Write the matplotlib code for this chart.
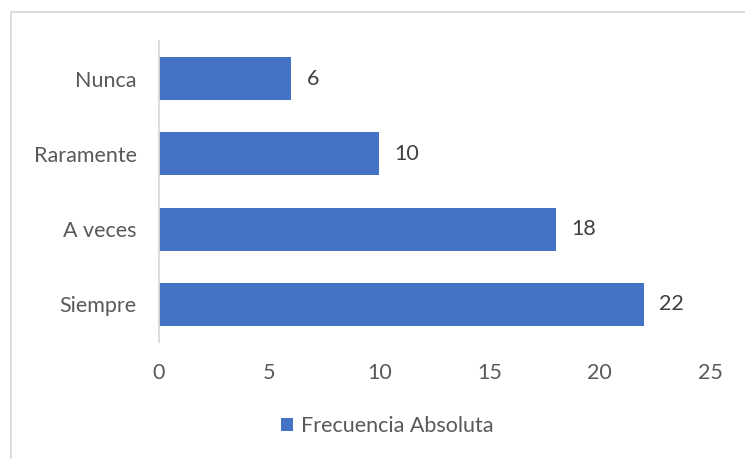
import matplotlib.pyplot as plt
from matplotlib.patches import Rectangle

# Datos
categorias = ["Siempre", "A veces", "Raramente", "Nunca"]
frecuencia = [22, 18, 10, 6]
ticks_x = [0, 5, 10, 15, 20, 25]

azul = "#4472C4"
gris_texto = "#595959"

plt.rcParams['font.family'] = ['Lato', 'DejaVu Sans']

fig = plt.figure(figsize=(7.45, 4.59), dpi=100)
ax = fig.add_axes([159/745, 1 - 342/459, 551/745, (342 - 41)/459])

# borde del area del grafico
fig.patches.append(Rectangle((10.5/745, -0.1), 1.0, 1.1 - 12.5/459,
                             transform=fig.transFigure, fill=False,
                             edgecolor="#d9d9d9", linewidth=1.3))

barras = ax.barh(categorias, frecuencia, height=0.57, color=azul,
                 label="Frecuencia Absoluta")
for b, v in zip(barras, frecuencia):
    ax.annotate(str(v), (v, b.get_y() + b.get_height()/2),
                xytext=(11, 0), textcoords="offset points",
                va="center", ha="left", fontsize=15.5, color="#404040")

ax.set_xlim(0, 25)
ax.set_ylim(-0.5, 3.5)
ax.set_xticks(ticks_x)
for s in ["top", "right", "bottom"]:
    ax.spines[s].set_visible(False)
ax.spines["left"].set_color("#d9d9d9")
ax.spines["left"].set_linewidth(1.3)
ax.tick_params(axis="both", length=0, labelsize=15.5, colors=gris_texto)
ax.tick_params(axis="x", pad=15)
ax.tick_params(axis="y", pad=16)

fig.legend(loc="center", bbox_to_anchor=(0.52, 1 - 426/459), frameon=False,
           fontsize=15.5, labelcolor=gris_texto, handlelength=0.55,
           handleheight=0.55, handletextpad=0.4)

fig.savefig("out.png", dpi=100)
